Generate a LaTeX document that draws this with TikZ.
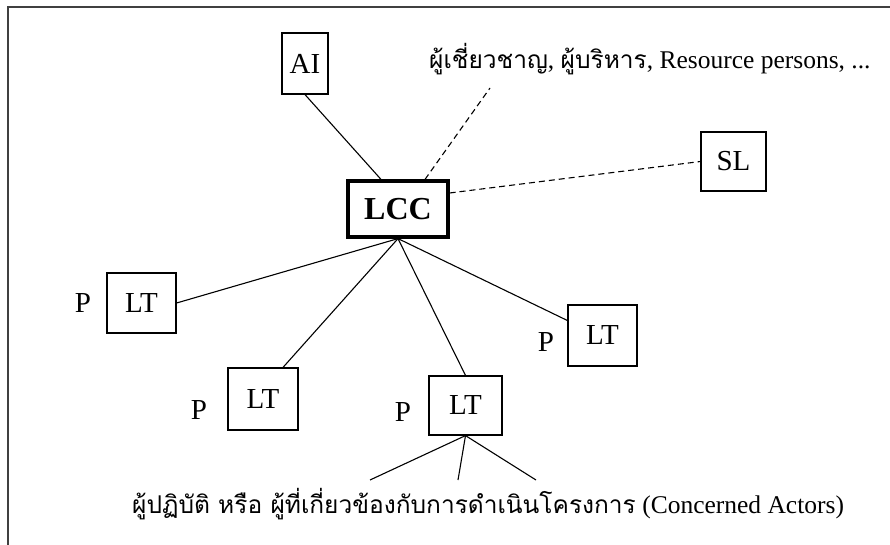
\documentclass[tikz,border=0pt]{standalone}
\usepackage{fontspec}
\setmainfont{Liberation Serif}
\newfontfamily\thai[Script=Thai]{Loma}
\begin{document}
\begin{tikzpicture}[x=1pt,y=-1pt,
  box/.style={draw,line width=1.2pt,inner sep=0pt,font=\fontsize{29}{32}\selectfont},
  plabel/.style={inner sep=0pt,font=\fontsize{29}{32}\selectfont},
  conn/.style={line width=1.1pt},
  dconn/.style={line width=1.1pt,dash pattern=on 6pt off 4pt},
  desc/.style={inner sep=0pt,anchor=base west,font=\fontsize{25.5}{30}\selectfont},
  frameline/.style={line width=1.6pt,draw=black!75}]
\useasboundingbox (0,0) rectangle (890,545);
% frame
\coordinate (fa) at (8,545);
\coordinate (fb) at (8,7);
\coordinate (fc) at (890,7);
\draw[frameline] (fa) -- (fb) -- (fc);
% boxes
\node[box,minimum width=46pt,minimum height=61pt] (AI) at (305,63.5) {AI};
\node[box,line width=3.2pt,minimum width=100pt,minimum height=56pt,font=\bfseries\fontsize{32}{34}\selectfont] (LCC) at (398,209) {LCC};
\node[box,minimum width=65pt,minimum height=59pt] (SL) at (733.5,161.5) {SL};
\node[box,minimum width=69pt,minimum height=60pt] (LT1) at (141.5,303) {LT};
\node[box,minimum width=70pt,minimum height=62pt] (LT2) at (263,399) {LT};
\node[box,minimum width=73pt,minimum height=59pt] (LT3) at (465.5,405.5) {LT};
\node[box,minimum width=69pt,minimum height=61pt] (LT4) at (602.5,335.5) {LT};
% P labels
\node[plabel] (P1) at (83,303) {P};
\node[plabel] (P2) at (199,410) {P};
\node[plabel] (P3) at (403,412) {P};
\node[plabel] (P4) at (546,342) {P};
% texts
\node[desc] (top) at (429,69) {{\thai\fontsize{24.5}{30}\selectfont ผู้เชี่ยวชาญ}, {\thai\fontsize{24.5}{30}\selectfont ผู้บริหาร}, Resource persons, ...};
\node[desc] (bot) at (132,513) {{\thai\fontsize{24.5}{30}\selectfont ผู้ปฏิบัติ หรือ ผู้ที่เกี่ยวข้องกับการดำเนินโครงการ} (Concerned Actors)};
% connectors
\coordinate (topc) at (490,88);
\coordinate (b1) at (370,480);
\coordinate (b2) at (458,480);
\coordinate (b3) at (536,480);
\draw[conn] (AI.south) -- ([xshift=-17pt]LCC.north);
\draw[dconn] ([xshift=27pt]LCC.north) -- (topc);
\draw[dconn] ([yshift=16pt]LCC.east) -- (SL.west);
\draw[conn] (LCC.south) -- (LT1.east);
\draw[conn] (LCC.south) -- ([xshift=20pt]LT2.north);
\draw[conn] (LCC.south) -- (LT3.north);
\draw[conn] (LCC.south) -- ([yshift=15pt]LT4.west);
\draw[conn] (LT3.south) -- (b1);
\draw[conn] (LT3.south) -- (b2);
\draw[conn] (LT3.south) -- (b3);
\end{tikzpicture}
\end{document}
